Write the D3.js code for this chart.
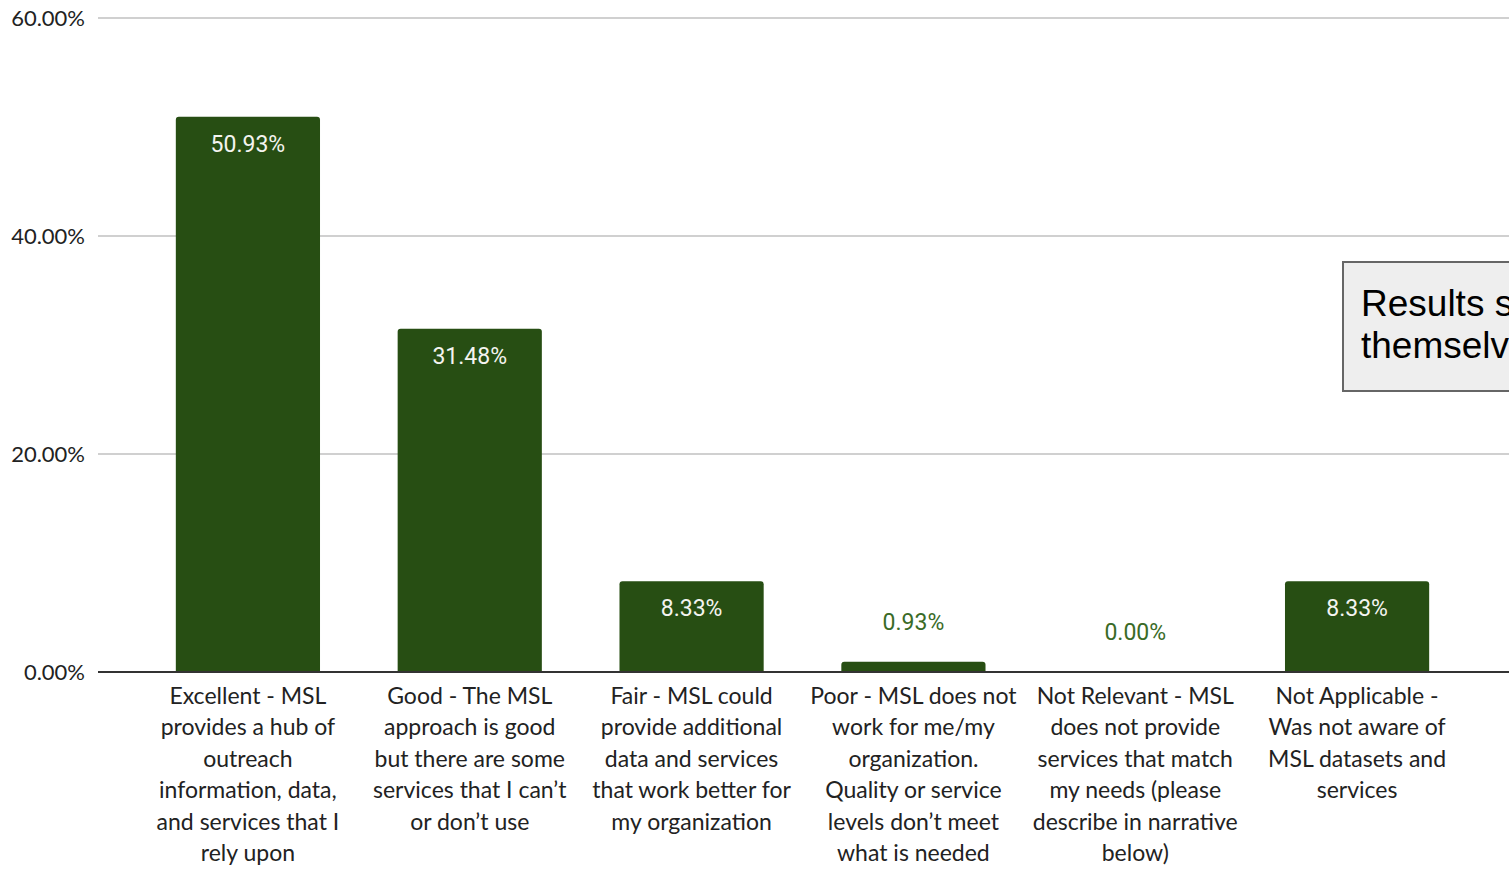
<!DOCTYPE html>
<html><head><meta charset="utf-8">
<script src="https://cdn.jsdelivr.net/npm/d3@7"></script>
<style>body{margin:0;background:#fff;overflow:hidden}</style>
</head><body>
<svg id="c" width="1509" height="870"></svg>
<script>
const categories = [
  ["Excellent - MSL","provides a hub of","outreach","information, data,","and services that I","rely upon"],
  ["Good - The MSL","approach is good","but there are some","services that I can\u2019t","or don\u2019t use"],
  ["Fair - MSL could","provide additional","data and services","that work better for","my organization"],
  ["Poor - MSL does not","work for me/my","organization.","Quality or service","levels don\u2019t meet","what is needed"],
  ["Not Relevant - MSL","does not provide","services that match","my needs (please","describe in narrative","below)"],
  ["Not Applicable -","Was not aware of","MSL datasets and","services"]
];
const values = [50.93, 31.48, 8.33, 0.93, 0.00, 8.33];
const yTicks = [0, 20, 40, 60];
const noteLines = ["Results speak for", "themselves"];

const svg = d3.select("#c");
const x = d3.scaleBand().domain(d3.range(values.length)).range([137, 1468]).paddingInner(0.35).paddingOuter(0.175);
const y = d3.scaleLinear().domain([0, 60]).range([672, 18]);

// grid
svg.append("g").selectAll("line").data(yTicks.filter(d=>d>0)).join("line")
  .attr("x1", 98).attr("x2", 1509).attr("y1", d=>y(d)).attr("y2", d=>y(d))
  .attr("stroke", "#d0d0d0").attr("stroke-width", 2);
svg.append("g").selectAll("text").data(yTicks).join("text")
  .attr("x", 85).attr("y", d=>y(d)).attr("dy", "0.35em").attr("text-anchor", "end")
  .attr("font-family", "Lato, sans-serif").attr("font-size", 22).attr("fill", "#222")
  .text(d=>d.toFixed(2)+"%");

// bars
const r = 3;
function barPath(i, v) {
  const x0 = x(i), w = x.bandwidth(), y0 = y(v), yb = y(0);
  const h = yb - y0;
  if (h <= 0) return "";
  const rr = Math.min(r, h);
  return `M${x0},${yb}V${y0+rr}Q${x0},${y0} ${x0+rr},${y0}H${x0+w-rr}Q${x0+w},${y0} ${x0+w},${y0+rr}V${yb}Z`;
}
svg.append("g").selectAll("path").data(values).join("path")
  .attr("d", (v,i)=>barPath(i,v)).attr("fill", "#274e13");

// baseline
svg.append("line").attr("x1", 98).attr("x2", 1509).attr("y1", y(0)).attr("y2", y(0))
  .attr("stroke", "#333").attr("stroke-width", 2);

// value labels
const inside = v => (y(0)-y(v) > 40);
svg.append("g").selectAll("text").data(values).join("text")
  .attr("x", (v,i)=>x(i)+x.bandwidth()/2)
  .attr("y", v => inside(v) ? y(v)+27 : y(v)-40)
  .attr("dy", "0.35em").attr("text-anchor", "middle")
  .attr("font-family", "Roboto, sans-serif").attr("font-size", 23)
  .attr("fill", v => inside(v) ? "#f4f4f0" : "#3a6b27")
  .text(v => v.toFixed(2)+"%");

// category labels
const cg = svg.append("g").selectAll("text").data(categories).join("text")
  .attr("x", (d,i)=>x(i)+x.bandwidth()/2).attr("y", 696)
  .attr("text-anchor", "middle").attr("font-family", "Lato, 'Open Sans', sans-serif")
  .attr("font-size", 23).attr("fill", "#222");
cg.selectAll("tspan").data(d=>d).join("tspan")
  .attr("x", function(){ return d3.select(this.parentNode).attr("x"); })
  .attr("dy", (d,j)=> j===0 ? "0.35em" : 31.4)
  .text(d=>d);

// annotation box
svg.append("rect").attr("x", 1343).attr("y", 262).attr("width", 400).attr("height", 129)
  .attr("fill", "#eeeeee").attr("stroke", "#666").attr("stroke-width", 2);
svg.append("g").selectAll("text").data(noteLines).join("text")
  .attr("x", 1361).attr("y", (d,i)=>303 + i*42).attr("dy", "0.35em")
  .attr("font-family", "'Liberation Sans', Arial, sans-serif").attr("font-size", 37).attr("fill", "#000")
  .text(d=>d);
</script>
</body></html>
